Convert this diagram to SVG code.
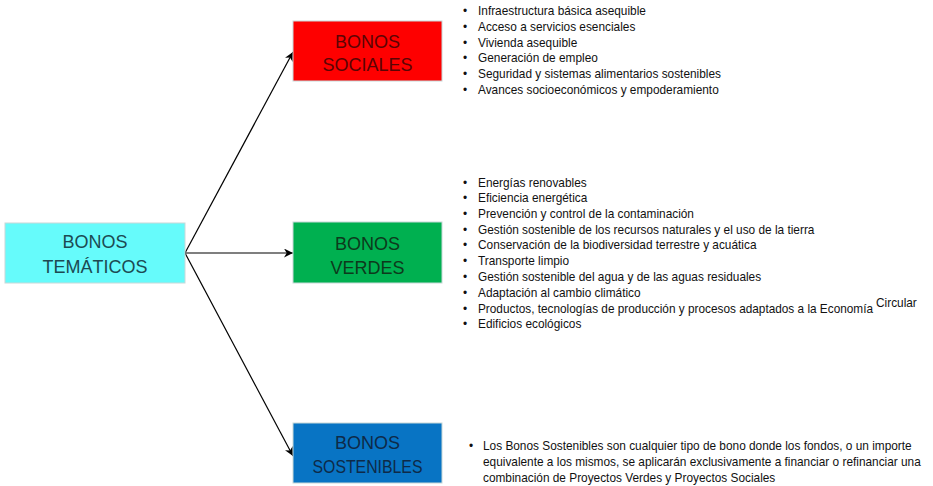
<svg xmlns="http://www.w3.org/2000/svg" width="933" height="486" viewBox="0 0 933 486">
<defs>
<marker id="ah" viewBox="0 0 10 10" refX="10" refY="5" markerWidth="9" markerHeight="9" markerUnits="userSpaceOnUse" orient="auto">
<path d="M0,0 L10,5 L0,10 L3,5 Z" fill="#000"/>
</marker>
</defs>
<style>
.box{stroke:#c8d8d8;stroke-width:1}
.bt{font-family:"Liberation Sans",Arial,sans-serif;font-size:18px;text-anchor:middle}
.li{font-family:"Liberation Sans",Arial,sans-serif;font-size:11.85px;fill:#111}
.con{stroke:#000;stroke-width:1.2;fill:none;marker-end:url(#ah)}
</style>
<rect width="933" height="486" fill="#fff"/>
<g id="connectors">
<line class="con" x1="185" y1="253" x2="293" y2="52"/>
<line class="con" x1="185" y1="253" x2="293" y2="253"/>
<line class="con" x1="185" y1="253" x2="293" y2="456"/>
</g>
<g id="tematicos">
<rect class="box" x="5" y="223" width="180" height="60" fill="#66fbfb"/>
<text class="bt" x="95" y="248" fill="#1c4a52">BONOS</text>
<text class="bt" x="95" y="273" fill="#1c4a52">TEMÁTICOS</text>
</g>
<g id="sociales">
<rect class="box" x="293" y="21" width="149" height="60" fill="#fe0000"/>
<text class="bt" x="367.5" y="48" fill="#5a0404">BONOS</text>
<text class="bt" x="367.5" y="71" fill="#5a0404">SOCIALES</text>
</g>
<g id="verdes">
<rect class="box" x="293" y="222" width="149" height="61" fill="#00b050"/>
<text class="bt" x="367.5" y="250" fill="#0d3a1c">BONOS</text>
<text class="bt" x="367.5" y="274" fill="#0d3a1c">VERDES</text>
</g>
<g id="sostenibles">
<rect class="box" x="293" y="423" width="149" height="60" fill="#0874c4"/>
<text class="bt" x="367.5" y="449" fill="#0e2a48">BONOS</text>
<text class="bt" x="367.5" y="473" fill="#0e2a48" textLength="110" lengthAdjust="spacingAndGlyphs">SOSTENIBLES</text>
</g>
<g id="lista-sociales" class="li">
<text x="463" y="15">•</text><text x="478" y="15">Infraestructura básica asequible</text>
<text x="463" y="31">•</text><text x="478" y="31">Acceso a servicios esenciales</text>
<text x="463" y="47">•</text><text x="478" y="47">Vivienda asequible</text>
<text x="463" y="62">•</text><text x="478" y="62">Generación de empleo</text>
<text x="463" y="78">•</text><text x="478" y="78">Seguridad y sistemas alimentarios sostenibles</text>
<text x="463" y="94">•</text><text x="478" y="94">Avances socioeconómicos y empoderamiento</text>
</g>
<g id="lista-verdes" class="li">
<text x="463" y="187">•</text><text x="478" y="187">Energías renovables</text>
<text x="463" y="202">•</text><text x="478" y="202">Eficiencia energética</text>
<text x="463" y="218">•</text><text x="478" y="218">Prevención y control de la contaminación</text>
<text x="463" y="234">•</text><text x="478" y="234">Gestión sostenible de los recursos naturales y el uso de la tierra</text>
<text x="463" y="249">•</text><text x="478" y="249">Conservación de la biodiversidad terrestre y acuática</text>
<text x="463" y="265">•</text><text x="478" y="265">Transporte limpio</text>
<text x="463" y="281">•</text><text x="478" y="281">Gestión sostenible del agua y de las aguas residuales</text>
<text x="463" y="297">•</text><text x="478" y="297">Adaptación al cambio climático</text>
<text x="463" y="313">•</text><text x="478" y="313" textLength="395" lengthAdjust="spacingAndGlyphs">Productos, tecnologías de producción y procesos adaptados a la Economía</text>
<text x="876" y="307">Circular</text>
<text x="463" y="328">•</text><text x="478" y="328">Edificios ecológicos</text>
</g>
<g id="lista-sostenibles" class="li">
<text x="469" y="450">•</text><text x="483" y="450">Los Bonos Sostenibles son cualquier tipo de bono donde los fondos, o un importe</text>
<text x="483" y="466">equivalente a los mismos, se aplicarán exclusivamente a financiar o refinanciar una</text>
<text x="483" y="482">combinación de Proyectos Verdes y Proyectos Sociales</text>
</g>
</svg>
